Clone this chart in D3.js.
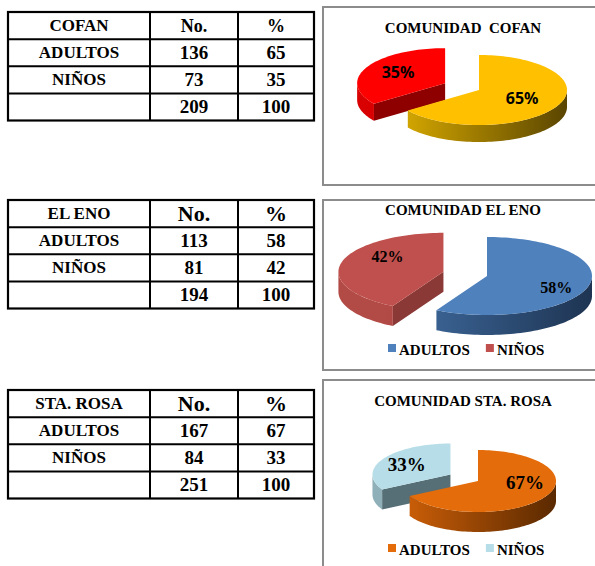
<!DOCTYPE html>
<meta charset="utf-8">
<head>
<script src="https://d3js.org/d3.v7.min.js"></script>
<style>
  body { margin: 0; background: #fff; }
  .serif { font-family: "Liberation Serif", "Times New Roman", Tinos, "Nimbus Roman", "DejaVu Serif", "Noto Serif", FreeSerif, serif; font-weight: bold; }
</style>
</head>
<body>
<div id="my_dataviz"></div>
<script>

    var communities = ["COFAN", "EL ENO", "STA. ROSA"];
    var titles = ["COMUNIDAD  COFAN", "COMUNIDAD EL ENO", "COMUNIDAD STA. ROSA"];
    var categories = ["ADULTOS", "NIÑOS"];
    var counts = [[136, 73], [113, 81], [167, 84]];
    var percents = [[65, 35], [58, 42], [67, 33]];
    var totals = [209, 194, 251];
    var totalPercents = [100, 100, 100];

    // look of each panel
    var topColors = [["#FFC000", "#FF0000"], ["#4F81BD", "#C0504D"], ["#E46C0A", "#B7DEE8"]];
    var wallColors = [[["#DDAE00", "#5A4500"], ["#D80000", "#A00000"]],
                      [["#4270A6", "#1E3452"], ["#B24A46", "#9C403D"]],
                      [["#CF6008", "#5A2900"], ["#8FB0B8", "#7A98A0"]]];
    var faceColors = [["#8A6A00", "#8E0000"], ["#2C4D75", "#8A3936"], ["#8A4000", "#566E75"]];

    // label placement per slice: [fraction of radius, vertical nudge]
    var labelPos = [[[0.55, 0], [0.6, -1]], [[0.68, 5], [0.55, -10]], [[0.7, -10], [0.65, 0]]];

    var pieGeom = [
      {cx: 479, cy: 90, rx: 88, ry: 35, depth: 17, explode: 38, sans: true, fs: 16, titleY: 33, legendY: null},
      {cx: 487, cy: 276, rx: 105, ry: 39, depth: 20, explode: 45, sans: false, fs: 16, titleY: 215, legendY: 355},
      {cx: 478, cy: 481, rx: 78, ry: 31, depth: 20, explode: 32, sans: false, fs: 19, titleY: 406, legendY: 555}
    ];
    var boxes = [{y: 7, h: 178}, {y: 200, h: 170}, {y: 380, h: 200}];
    var tableTops = [12, 200, 390];
    var headerSizes = [18, 22, 22];

    var width = 595, height = 566;

    var svg = d3.select("#my_dataviz")
      .append("svg")
        .attr("width", width)
        .attr("height", height);

    svg.append("rect").attr("width", width).attr("height", height).attr("fill", "#fff");
    var defs = svg.append("defs");

    // ---------- tables ----------
    var colEdges = [8, 150, 238, 314];
    tableTops.forEach(function(top, i) {
      var g = svg.append("g");
      var rows = [
        [communities[i], "No.", "%"],
        [categories[0], counts[i][0], percents[i][0]],
        [categories[1], counts[i][1], percents[i][1]],
        ["", totals[i], totalPercents[i]]
      ];
      var y = d3.scaleBand().domain(d3.range(rows.length)).range([top, top + 108.5]);

      // grid lines
      y.domain().slice(1).forEach(function(r) {
        g.append("line").attr("x1", colEdges[0]).attr("x2", colEdges[3])
          .attr("y1", y(r)).attr("y2", y(r))
          .attr("stroke", "#000").attr("stroke-width", 2);
      });
      colEdges.slice(1, 3).forEach(function(x) {
        g.append("line").attr("x1", x).attr("x2", x)
          .attr("y1", top).attr("y2", top + 108.5)
          .attr("stroke", "#000").attr("stroke-width", 2);
      });
      g.append("rect").attr("x", colEdges[0]).attr("y", top)
        .attr("width", colEdges[3] - colEdges[0]).attr("height", 108.5)
        .attr("fill", "none").attr("stroke", "#000").attr("stroke-width", 2.2);

      rows.forEach(function(row, r) {
        row.forEach(function(cell, c) {
          var fs = c === 0 ? 17 : (r === 0 ? headerSizes[i] : 19);
          g.append("text")
            .attr("class", "serif")
            .attr("x", (colEdges[c] + colEdges[c + 1]) / 2)
            .attr("y", y(r) + y.bandwidth() / 2 + fs * 0.33)
            .attr("text-anchor", "middle")
            .style("font-size", fs + "px")
            .text(cell);
        });
      });
    });

    // ---------- chart boxes ----------
    boxes.forEach(function(b) {
      svg.append("rect").attr("x", 323).attr("y", b.y)
        .attr("width", 300).attr("height", b.h)
        .attr("fill", "#fff").attr("stroke", "#8c8c8c").attr("stroke-width", 2);
    });

    // ---------- 3D pies ----------
    var pie = d3.pie().sort(null).value(function(d) { return d; });
    var line = d3.line();

    function arcPts(cx, cy, rx, ry, a0, a1, dy) {
      var n = Math.max(2, Math.ceil((a1 - a0) / (Math.PI / 90)));
      return d3.range(n + 1).map(function(k) {
        var t = a0 + (a1 - a0) * k / n;
        return [cx + rx * Math.sin(t), cy - ry * Math.cos(t) + dy];
      });
    }

    pieGeom.forEach(function(p, i) {
      var g = svg.append("g");

      g.append("text")
        .attr("class", "serif")
        .attr("x", 463).attr("y", p.titleY)
        .attr("text-anchor", "middle")
        .style("font-size", "15px")
        .style("white-space", "pre")
        .text(titles[i]);

      var slices = pie(percents[i]).map(function(s, k) {
        var mid = (s.startAngle + s.endAngle) / 2;
        var e = k === 0 ? 0 : p.explode;   // the small slice is pulled out
        s.k = k;
        s.mid = mid;
        s.sx = p.cx + e * Math.sin(mid);
        s.sy = p.cy - e * Math.cos(mid) * p.ry / p.rx;
        return s;
      });

      // back slices first
      slices.slice().sort(function(a, b) { return Math.cos(b.mid) - Math.cos(a.mid); })
        .forEach(function(s) {
          var k = s.k, a0 = s.startAngle, a1 = s.endAngle, d = p.depth;
          var gid = "wall" + i + "_" + k;
          var grad = defs.append("linearGradient").attr("id", gid)
            .attr("gradientUnits", "userSpaceOnUse")
            .attr("x1", p.cx - p.rx).attr("x2", p.cx + p.rx)
            .attr("y1", 0).attr("y2", 0);
          grad.append("stop").attr("offset", "0%").attr("stop-color", wallColors[i][k][0]);
          grad.append("stop").attr("offset", "100%").attr("stop-color", wallColors[i][k][1]);

          function edge(a, dy) { return [s.sx + p.rx * Math.sin(a), s.sy - p.ry * Math.cos(a) + dy]; }

          // radial faces that look toward the viewer
          if (Math.sin(a0) < -1e-6) {
            g.append("path")
              .attr("d", line([[s.sx, s.sy], edge(a0, 0), edge(a0, d), [s.sx, s.sy + d]]) + "Z")
              .attr("fill", faceColors[i][k]);
          }
          if (Math.sin(a1) > 1e-6) {
            g.append("path")
              .attr("d", line([[s.sx, s.sy], edge(a1, 0), edge(a1, d), [s.sx, s.sy + d]]) + "Z")
              .attr("fill", faceColors[i][k]);
          }
          // outer wall, front half only
          var b0 = Math.max(a0, Math.PI / 2), b1 = Math.min(a1, 3 * Math.PI / 2);
          if (b1 > b0) {
            var pts = arcPts(s.sx, s.sy, p.rx, p.ry, b0, b1, 0)
              .concat(arcPts(s.sx, s.sy, p.rx, p.ry, b0, b1, d).reverse());
            g.append("path").attr("d", line(pts) + "Z").attr("fill", "url(#" + gid + ")");
          }
          // top face
          var top = [[s.sx, s.sy]].concat(arcPts(s.sx, s.sy, p.rx, p.ry, a0, a1, 0));
          g.append("path").attr("d", line(top) + "Z").attr("fill", topColors[i][k]);
        });

      // percent labels
      slices.forEach(function(s) {
        var lp = labelPos[i][s.k];
        var t = g.append("text")
          .attr("x", s.sx + lp[0] * p.rx * Math.sin(s.mid))
          .attr("y", s.sy - lp[0] * p.ry * Math.cos(s.mid) + p.fs * 0.35 + lp[1])
          .attr("text-anchor", "middle")
          .style("font-size", p.fs + "px")
          .text(percents[i][s.k] + "%");
        if (p.sans) t.style("font-family", "'Noto Sans', sans-serif").style("font-weight", "bold");
        else t.attr("class", "serif");
      });

      // legend
      if (p.legendY !== null) {
        var lx = 388;
        categories.forEach(function(c, k) {
          g.append("rect").attr("x", lx).attr("y", p.legendY - 11)
            .attr("width", 8).attr("height", 8)
            .attr("fill", topColors[i][k]);
          var t = g.append("text")
            .attr("class", "serif")
            .attr("x", lx + 11).attr("y", p.legendY)
            .style("font-size", "15px")
            .text(c);
          lx += 11 + t.node().getComputedTextLength() + 16;
        });
      }
    });

</script>
</body>
</html>
